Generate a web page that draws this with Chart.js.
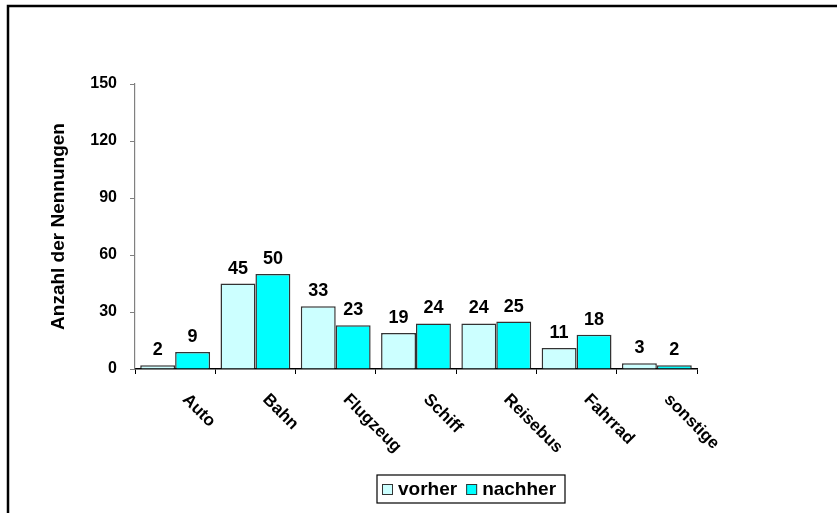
<!DOCTYPE html>
<html>
<head>
<meta charset="utf-8">
<script src="https://cdn.jsdelivr.net/npm/chart.js"></script>
<style>
  body { margin: 0; background: #fff; }
  #wrap { width: 837px; height: 513px; }
</style>
</head>
<body>
<div id="wrap"><canvas id="c" width="837" height="513"></canvas></div>
<script>
    // --- Data ---
    const categories = ['Auto', 'Bahn', 'Flugzeug', 'Schiff', 'Reisebus', 'Fahrrad', 'sonstige'];
    const vorher = [2, 45, 33, 19, 24, 11, 3];
    const nachher = [9, 50, 23, 24, 25, 18, 2];
    const yTicks = [0, 30, 60, 90, 120, 150];
    const seriesNames = ['vorher', 'nachher'];
    const seriesColors = ['#CCFFFF', '#00FFFF'];

    const FONT = '"Liberation Sans", Arial, sans-serif';

    // frame + white background
    const framePlugin = {
        id: 'frame',
        beforeDraw(chart) {
            const ctx = chart.ctx;
            ctx.save();
            ctx.fillStyle = '#fff';
            ctx.fillRect(0, 0, chart.width, chart.height);
            ctx.strokeStyle = '#000';
            ctx.lineWidth = 2.5;
            ctx.beginPath();
            ctx.moveTo(8, chart.height + 2);
            ctx.lineTo(8, 6);
            ctx.lineTo(chart.width + 2, 6);
            ctx.stroke();
            ctx.restore();
        }
    };

    // value labels above bars
    const valueLabels = {
        id: 'valueLabels',
        afterDatasetsDraw(chart) {
            const ctx = chart.ctx;
            ctx.save();
            ctx.font = 'bold 18px ' + FONT;
            ctx.fillStyle = '#000';
            ctx.textAlign = 'center';
            ctx.textBaseline = 'alphabetic';
            chart.data.datasets.forEach((ds, di) => {
                chart.getDatasetMeta(di).data.forEach((bar, i) => {
                    ctx.fillText(ds.data[i], bar.x, bar.y - 10);
                });
            });
            ctx.restore();
        }
    };

    // rotated category labels (text running down to the right)
    const slantLabels = {
        id: 'slantLabels',
        afterDraw(chart) {
            const ctx = chart.ctx;
            const xs = chart.scales.x;
            ctx.save();
            ctx.font = 'bold 17px ' + FONT;
            ctx.fillStyle = '#000';
            ctx.textAlign = 'left';
            ctx.textBaseline = 'top';
            categories.forEach((lab, i) => {
                const x = xs.getPixelForTick(i);
                ctx.save();
                ctx.translate(x + 16, xs.top + 22);
                ctx.rotate(Math.PI / 4);
                ctx.fillText(lab, 0, 0);
                ctx.restore();
            });
            ctx.restore();
        }
    };

    // boxed legend below the chart
    const boxLegend = {
        id: 'boxLegend',
        afterDraw(chart) {
            const ctx = chart.ctx;
            ctx.save();
            ctx.font = 'bold 19px ' + FONT;
            ctx.textBaseline = 'middle';
            ctx.textAlign = 'left';
            const bx = 377, by = 475, bw = 188, bh = 28;
            ctx.fillStyle = '#fff';
            ctx.fillRect(bx, by, bw, bh);
            ctx.strokeStyle = '#000';
            ctx.lineWidth = 1.2;
            ctx.strokeRect(bx, by, bw, bh);
            let x = bx + 5;
            const cy = by + bh / 2;
            chart.data.datasets.forEach(ds => {
                ctx.fillStyle = ds.backgroundColor;
                ctx.fillRect(x, cy - 5, 11, 11);
                ctx.strokeStyle = '#333';
                ctx.lineWidth = 1;
                ctx.strokeRect(x + 0.5, cy - 4.5, 10, 10);
                ctx.fillStyle = '#000';
                ctx.fillText(ds.label, x + 16, cy + 1);
                x += 16 + ctx.measureText(ds.label).width + 9;
            });
            ctx.restore();
        }
    };

    new Chart(document.getElementById('c'), {
        type: 'bar',
        data: {
            labels: categories,
            datasets: [
                {
                    label: seriesNames[0], data: vorher,
                    backgroundColor: seriesColors[0], borderColor: '#333333', borderWidth: 1.5,
                    borderSkipped: 'start'
                },
                {
                    label: seriesNames[1], data: nachher,
                    backgroundColor: seriesColors[1], borderColor: '#333333', borderWidth: 1.5,
                    borderSkipped: 'start'
                }
            ]
        },
        options: {
            responsive: false,
            animation: false,
            events: [],
            layout: { padding: { left: 0, top: 84, right: 140, bottom: 0 } },
            datasets: { bar: { categoryPercentage: 0.87, barPercentage: 1.0 } },
            plugins: { legend: { display: false }, tooltip: { enabled: false } },
            scales: {
                x: {
                    afterFit(s) { s.height = 144; },
                    ticks: { display: false },
                    grid: { offset: true, drawOnChartArea: false, drawTicks: true, tickLength: 5, color: '#000' },
                    border: { color: '#000', width: 1.5 }
                },
                y: {
                    min: 0, max: 150,
                    afterFit(s) { s.width = 135; },
                    afterBuildTicks(s) { s.ticks = yTicks.map(v => ({ value: v })); },
                    ticks: { color: '#000', padding: 13, font: { family: FONT, size: 16, weight: 'bold' } },
                    grid: { drawOnChartArea: false, drawTicks: true, tickLength: 5, color: '#808080' },
                    border: { color: '#808080', width: 1.2 },
                    title: {
                        display: true, text: 'Anzahl der Nennungen', color: '#000',
                        font: { family: FONT, size: 19, weight: 'bold' },
                        padding: { top: 47, bottom: 0 }
                    }
                }
            }
        },
        plugins: [framePlugin, valueLabels, slantLabels, boxLegend]
    });
</script>
</body>
</html>
